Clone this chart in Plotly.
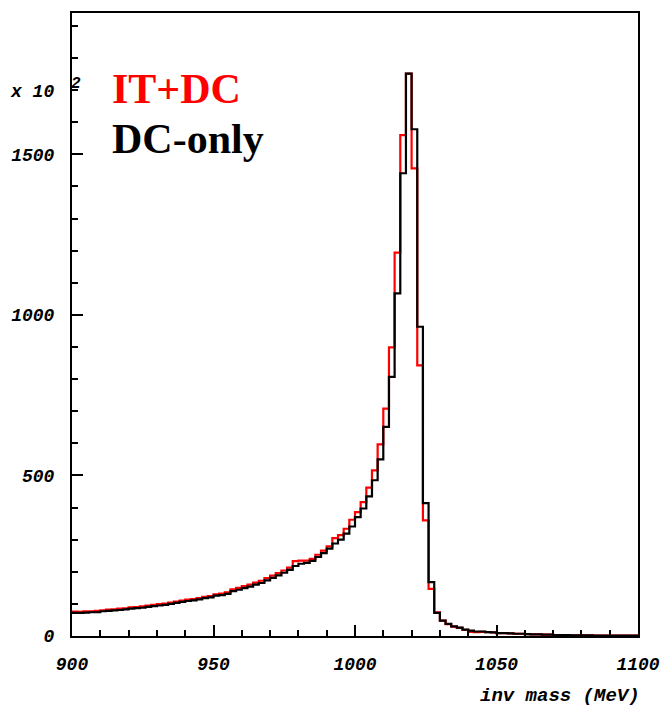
import plotly.graph_objects as go

# Invariant-mass histogram, 2 MeV bins from 900 to 1100 MeV (counts in units of 10^2)
bin_lo = 900
bin_hi = 1100
bin_width = 2

dc_only = [
    72, 72, 73, 74, 74, 77, 78, 80, 81, 83,
    85, 87, 88, 91, 93, 95, 97, 100, 103, 106,
    109, 111, 114, 118, 120, 126, 127, 131, 140, 144,
    149, 154, 160, 165, 173, 181, 189, 197, 206, 218,
    225, 228, 234, 246, 258, 272, 288, 300, 319, 341,
    370, 397, 435, 485, 550, 651, 807, 1067, 1441, 1751,
    1578, 963, 414, 168, 72, 48, 38, 30, 26, 20,
    17, 14, 14, 12, 11, 9, 9, 8, 7, 7,
    6, 5, 5, 4, 4, 3, 3, 3, 2, 2,
    2, 2, 1, 1, 1, 1, 1, 1, 1, 1,
]

it_dc = [
    76, 75, 77, 77, 78, 80, 82, 83, 85, 86,
    89, 90, 92, 95, 97, 99, 101, 104, 107, 110,
    113, 115, 118, 122, 124, 130, 132, 136, 145, 150,
    155, 160, 166, 172, 180, 188, 196, 204, 213, 233,
    235, 235, 240, 253, 266, 279, 305, 314, 334, 362,
    386, 417, 462, 516, 597, 708, 899, 1194, 1560, 1751,
    1456, 843, 360, 147, 74, 48, 37, 29, 25, 19,
    13, 12, 13, 12, 11, 9, 9, 8, 7, 7,
    6, 5, 5, 4, 4, 3, 3, 3, 2, 2,
    2, 2, 1, 1, 1, 1, 1, 1, 1, 1,
]

y_max = 1940
x_tick_labels = ["900", "950", "1000", "1050", "1100"]
y_tick_labels = ["0", "500", "1000", "1500"]

edges = list(range(bin_lo, bin_hi + bin_width, bin_width))


def step_xy(values):
    # left edges plus the closing edge, last value repeated for the 'hv' step
    return edges, list(values) + [values[-1]]


fig = go.Figure()
for vals, colour in ((it_dc, "#ff0000"), (dc_only, "#000000")):
    xs, ys = step_xy(vals)
    fig.add_trace(go.Scatter(
        x=xs, y=ys, mode="lines",
        line=dict(shape="hv", color=colour, width=2.2),
        hoverinfo="skip", showlegend=False,
    ))

tick_font = dict(family="Liberation Mono", size=18, color="black",
                 weight="bold", style="italic")

fig.update_xaxes(
    range=[bin_lo, bin_hi], showgrid=False, zeroline=False, automargin=False,
    showline=True, linecolor="black", linewidth=2, mirror=True,
    ticks="inside", ticklen=11, tickwidth=2, tickcolor="black",
    tickvals=[int(t) for t in x_tick_labels], ticktext=x_tick_labels,
    tickfont=tick_font, ticklabelstandoff=10,
    minor=dict(ticks="inside", ticklen=6, tickwidth=2, tickcolor="black",
               dtick=10, tick0=900, showgrid=False),
)
fig.update_yaxes(
    range=[0, y_max], showgrid=False, zeroline=False, automargin=False,
    showline=True, linecolor="black", linewidth=2, mirror=True,
    ticks="inside", ticklen=11, tickwidth=2, tickcolor="black",
    tickvals=[int(t) for t in y_tick_labels], ticktext=y_tick_labels,
    tickfont=tick_font, ticklabelstandoff=12,
    minor=dict(ticks="inside", ticklen=6, tickwidth=2, tickcolor="black",
               dtick=100, tick0=0, showgrid=False),
)

L, R, T, B = 72, 26, 13, 72
W, H = 664, 708
pw, ph = W - L - R, H - T - B


def px(x):
    return (x - L) / pw


def py(y):
    return (H - B - y) / ph


label_font = dict(family="Liberation Serif", size=42, weight="bold")
fig.add_annotation(x=px(110), y=py(89), xref="paper", yref="paper",
                   xanchor="left", yanchor="middle", showarrow=False,
                   text="IT+DC", font=dict(label_font, color="#ff0000"))
fig.add_annotation(x=px(110), y=py(139), xref="paper", yref="paper",
                   xanchor="left", yanchor="middle", showarrow=False,
                   text="DC-only", font=dict(label_font, color="#000000"))

fig.add_annotation(x=px(56), y=py(92), xref="paper", yref="paper",
                   xanchor="right", yanchor="middle", showarrow=False,
                   text="x 10", font=tick_font)
fig.add_annotation(x=px(69), y=py(84), xref="paper", yref="paper",
                   xanchor="left", yanchor="middle", showarrow=False,
                   text="2", font=dict(tick_font, size=16))
fig.add_annotation(x=px(642), y=py(696), xref="paper", yref="paper",
                   xanchor="right", yanchor="middle", showarrow=False,
                   text="inv mass (MeV)", font=dict(tick_font, size=19))

fig.update_layout(
    width=W, height=H,
    margin=dict(l=L, r=R, t=T, b=B),
    paper_bgcolor="white", plot_bgcolor="white",
    showlegend=False,
)

fig.write_html("out.html")
